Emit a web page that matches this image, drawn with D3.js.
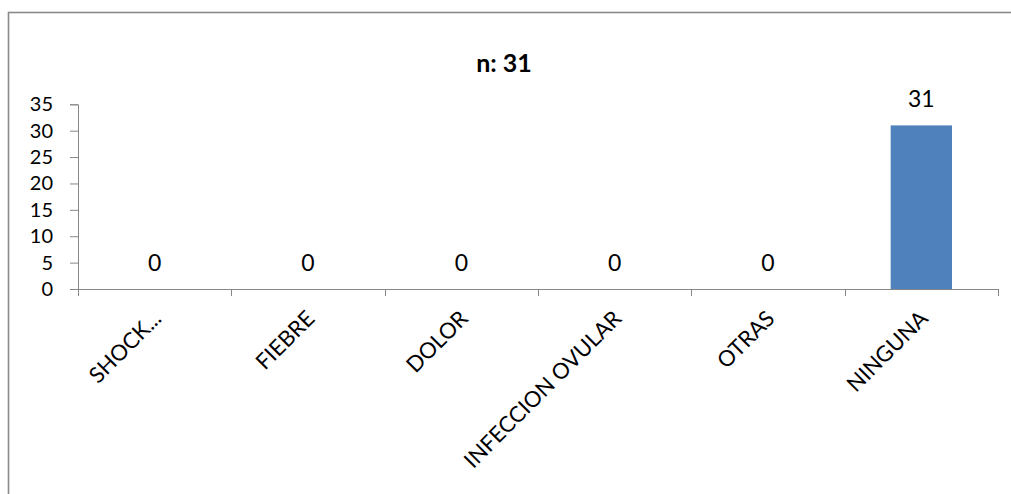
<!DOCTYPE html>
<html>
<head>
<meta charset="utf-8">
<script src="https://cdn.jsdelivr.net/npm/d3@7"></script>
<style>
  html, body { margin: 0; padding: 0; background: #ffffff; }
  svg { display: block; }
  text { font-family: Lato, "Open Sans", sans-serif; fill: #000; }
</style>
</head>
<body>
<svg id="chart" width="1011" height="494"></svg>
<script>
// Complications recorded (n = 31)
const categories = ["SHOCK...", "FIEBRE", "DOLOR", "INFECCION OVULAR", "OTRAS", "NINGUNA"];
const counts = [0, 0, 0, 0, 0, 31];
const yTicks = [0, 5, 10, 15, 20, 25, 30, 35];
const title = "n: 31";

const svg = d3.select("#chart");
const W = 1011, H = 494;
const plot = { left: 78, right: 998, top: 104.3, bottom: 289 };
const axisColor = "#868686";

// chart frame
svg.append("rect")
  .attr("x", 8.5).attr("y", 12.5)
  .attr("width", 1100).attr("height", 700)
  .attr("fill", "#fff")
  .attr("stroke", "#8a8a8a").attr("stroke-width", 1.6);

svg.append("text")
  .attr("x", 504).attr("y", 72)
  .attr("text-anchor", "middle")
  .attr("font-size", 25).attr("font-weight", "bold")
  .text(title);

const x = d3.scaleBand().domain(categories)
  .range([plot.left, plot.right]).paddingInner(0.6).paddingOuter(0.3);
const xBand = d3.scaleBand().domain(categories)
  .range([plot.left, plot.right]).padding(0);
const y = d3.scaleLinear().domain([0, 35]).range([plot.bottom, plot.top]);

// y axis
const yAxis = svg.append("g")
  .attr("transform", `translate(${plot.left},0)`)
  .call(d3.axisLeft(y).tickValues(yTicks).tickSize(8).tickPadding(17));
yAxis.selectAll("path, line").attr("stroke", axisColor);
yAxis.selectAll("text")
  .attr("font-size", 20).attr("font-family", "Lato, sans-serif").attr("fill", "#000");

// bars
svg.append("g").selectAll("rect")
  .data(categories)
  .join("rect")
  .attr("x", d => x(d))
  .attr("width", x.bandwidth())
  .attr("y", (d, i) => y(counts[i]))
  .attr("height", (d, i) => y(0) - y(counts[i]))
  .attr("fill", "#4f81bd");

// value labels
svg.append("g").selectAll("text")
  .data(categories)
  .join("text")
  .attr("x", d => xBand(d) + xBand.bandwidth() / 2)
  .attr("y", (d, i) => y(counts[i]) - 18.5)
  .attr("text-anchor", "middle")
  .attr("font-size", 23)
  .text((d, i) => counts[i]);

// x axis: baseline with ticks at category boundaries
const xg = svg.append("g");
xg.append("line")
  .attr("x1", plot.left).attr("x2", plot.right)
  .attr("y1", plot.bottom + 0.5).attr("y2", plot.bottom + 0.5)
  .attr("stroke", axisColor);
const bounds = categories.map(d => xBand(d)).concat([plot.right]);
xg.selectAll("line.tick")
  .data(bounds)
  .join("line")
  .attr("class", "tick")
  .attr("x1", d => Math.round(d) + 0.5).attr("x2", d => Math.round(d) + 0.5)
  .attr("y1", plot.bottom).attr("y2", plot.bottom + 7)
  .attr("stroke", axisColor);

// rotated category labels
xg.selectAll("text")
  .data(categories)
  .join("text")
  .attr("text-anchor", "end")
  .attr("font-size", 22)
  .attr("transform", d => `translate(${xBand(d) + xBand.bandwidth() / 2 + 8},${plot.bottom + 31}) rotate(-45)`)
  .text(d => d);
</script>
</body>
</html>
